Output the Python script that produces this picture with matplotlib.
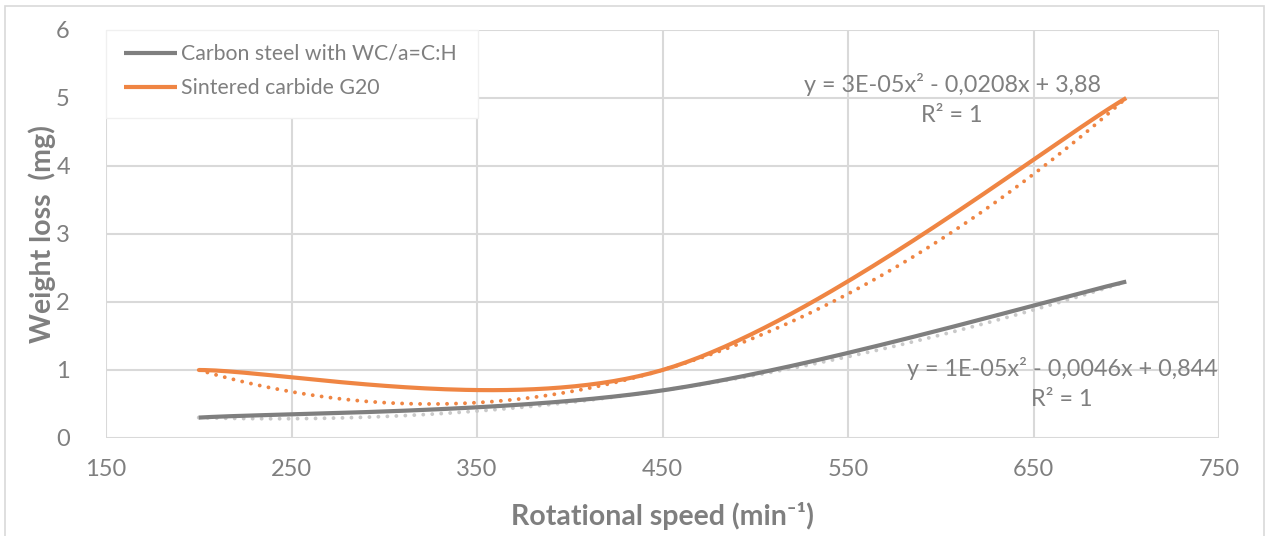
import numpy as np
import matplotlib
matplotlib.use("Agg")
import matplotlib.pyplot as plt
from matplotlib.patches import Rectangle

# ---- data ----
speed = [200, 450, 700]
carbon_steel = [0.3, 0.7, 2.3]
sintered_carbide = [1.0, 1.0, 5.0]
series_names = ["Carbon steel with WC/a=C:H", "Sintered carbide G20"]
eq_carbon = ["y = 1E-05x² - 0,0046x + 0,844", "R² = 1"]
eq_sinter = ["y = 3E-05x² - 0,0208x + 3,88", "R² = 1"]
x_ticks = [150, 250, 350, 450, 550, 650, 750]
y_ticks = [0, 1, 2, 3, 4, 5, 6]

ORANGE = "#EF8543"
GRAY = "#7F7F7F"
LGRAY = "#C9C9C9"
TXT = "#7F7F7F"
GRID = "#D9D9D9"

plt.rcParams['font.family'] = ['Lato', 'DejaVu Sans']


def excel_smooth(xs, ys, n=80):
    """Excel-style smoothed line: cubic Bezier with Catmull-Rom control points."""
    P = np.column_stack([xs, ys]).astype(float)
    pts = [P[0]]
    m = len(P)
    for i in range(m - 1):
        p0 = P[i - 1] if i > 0 else P[i]
        p1 = P[i]
        p2 = P[i + 1]
        p3 = P[i + 2] if i + 2 < m else P[i + 1]
        c1 = p1 + (p2 - p0) / 6.0
        c2 = p2 - (p3 - p1) / 6.0
        t = np.linspace(0, 1, n)[1:, None]
        seg = ((1 - t) ** 3) * p1 + 3 * ((1 - t) ** 2) * t * c1 + 3 * (1 - t) * t ** 2 * c2 + t ** 3 * p2
        pts.extend(seg)
    pts = np.array(pts)
    return pts[:, 0], pts[:, 1]


W, H = 1266, 536
fig = plt.figure(figsize=(W / 100, H / 100), dpi=100)
L, R, B, T = 106, 1219, 438, 30
ax = fig.add_axes([L / W, 1 - B / H, (R - L) / W, (B - T) / H])

ax.set_xlim(150, 750)
ax.set_ylim(0, 6)
ax.set_xticks(x_ticks)
ax.set_yticks(y_ticks)
ax.grid(True, color=GRID, lw=1.5)
ax.set_axisbelow(True)
for s in ax.spines.values():
    s.set_visible(False)
ax.tick_params(length=0, labelsize=17, colors=TXT)
ax.tick_params(axis='x', pad=15)
ax.tick_params(axis='y', pad=26)

xx = np.linspace(min(speed), max(speed), 200)
# trendlines (2nd order polynomial)
for ys, col in [(carbon_steel, LGRAY), (sintered_carbide, ORANGE)]:
    c = np.polyfit(speed, ys, 2)
    ax.plot(xx, np.polyval(c, xx), color=col, lw=2.8, linestyle=(0, (0.01, 2.3)),
            dash_capstyle='round', zorder=3)

# smoothed series
sx, sy = excel_smooth(speed, carbon_steel)
l1, = ax.plot(sx, sy, color=GRAY, lw=3.0, solid_capstyle='butt', zorder=4, label=series_names[0])
sx, sy = excel_smooth(speed, sintered_carbide)
l2, = ax.plot(sx, sy, color=ORANGE, lw=3.0, solid_capstyle='butt', zorder=5, label=series_names[1])

ax.set_xlabel("Rotational speed (min⁻¹)", fontsize=20.5, fontweight='bold', color=TXT, labelpad=16)
ax.set_ylabel("Weight loss  (mg)", fontsize=20.5, fontweight='bold', color=TXT, labelpad=0)

# equations
for lines, cx, ys in [(eq_sinter, 952, (84, 116)), (eq_carbon, 1062, (368, 400))]:
    for txt, yy in zip(lines, ys):
        fig.text(cx / W, 1 - yy / H, txt, ha='center', va='center',
                 fontsize=16.8, color=TXT, zorder=6)

# legend box
fig.patches.append(Rectangle((106 / W, 1 - 118 / H), (478 - 106) / W, (118 - 30) / H,
                             transform=fig.transFigure, facecolor='white', edgecolor='#F0F0F0',
                             lw=1, zorder=10))
leg = fig.legend(handles=[l1, l2], loc='upper left', bbox_to_anchor=(124 / W, 1 - 44 / H),
                 frameon=False, fontsize=15.3, labelcolor=TXT, handlelength=2.5,
                 handletextpad=0.2, labelspacing=0.66, borderaxespad=0, borderpad=0)
leg.set_zorder(11)

# outer chart border
fig.patches.append(Rectangle((5 / W, -0.01), (1264 - 5) / W, 1 - 6 / H + 0.01,
                             transform=fig.transFigure, facecolor='none', edgecolor=GRID, lw=1.2))

fig.savefig("out.png", dpi=100, facecolor='white')
